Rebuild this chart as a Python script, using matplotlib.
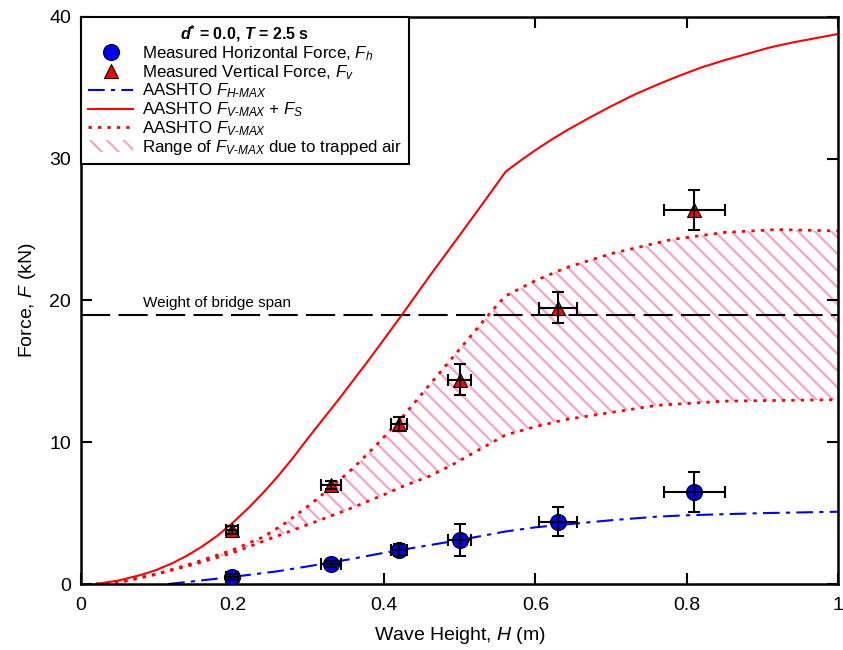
import numpy as np
import matplotlib
matplotlib.use("Agg")
import matplotlib.pyplot as plt

plt.rcParams['font.family'] = ['Liberation Sans', 'DejaVu Sans']
plt.rcParams['mathtext.fontset'] = 'custom'
plt.rcParams['mathtext.rm'] = 'Liberation Sans'
plt.rcParams['mathtext.it'] = 'Liberation Sans:italic'
plt.rcParams['mathtext.bf'] = 'Liberation Sans:bold'
plt.rcParams['mathtext.bfit'] = 'Liberation Sans:italic:bold'
plt.rcParams['hatch.linewidth'] = 1.6

# ---------- DATA ----------
# measured points (H in m, F in kN)
meas_h = [0.20, 0.33, 0.42, 0.50, 0.63, 0.81]
meas_h_err = [0.008, 0.013, 0.010, 0.015, 0.025, 0.040]
fh = [0.5, 1.4, 2.4, 3.1, 4.4, 6.5]
fh_err = [0.2, 0.2, 0.4, 1.1, 1.0, 1.4]
fv = [3.8, 7.0, 11.3, 14.4, 19.5, 26.4]
fv_err = [0.3, 0.3, 0.5, 1.1, 1.1, 1.4]

# AASHTO F_H-MAX
aash_h_x = [0.115, 0.15, 0.20, 0.26, 0.30, 0.35, 0.40, 0.45, 0.50, 0.56, 0.60, 0.64,
            0.70, 0.76, 0.80, 0.90, 1.00]
aash_h_y = [0.0, 0.2, 0.5, 0.9, 1.25, 1.7, 2.2, 2.65, 3.1, 3.7, 4.0, 4.2,
            4.5, 4.75, 4.85, 5.0, 5.1]

# AASHTO F_V-MAX + F_S
fvs_x = [0.02, 0.05, 0.08, 0.10, 0.12, 0.14, 0.16, 0.18, 0.20, 0.22, 0.24, 0.26,
         0.28, 0.30, 0.34, 0.38, 0.424, 0.46, 0.50, 0.53, 0.561, 0.58, 0.60,
         0.62, 0.64, 0.67, 0.70, 0.73, 0.76, 0.79, 0.82, 0.85, 0.88, 0.91,
         0.94, 0.97, 1.00]
fvs_y = [0.0, 0.25, 0.65, 1.0, 1.45, 2.0, 2.65, 3.4, 4.3, 5.3, 6.4, 7.6,
         8.9, 10.3, 13.0, 15.8, 19.0, 21.7, 24.6, 26.8, 29.1, 29.85, 30.6,
         31.3, 31.95, 32.85, 33.7, 34.5, 35.2, 35.85, 36.45, 36.95, 37.4, 37.85,
         38.2, 38.5, 38.8]

# AASHTO F_V-MAX (upper) and reduced F_V-MAX (lower, trapped air range)
fv_up_x = [0.02, 0.05, 0.10, 0.15, 0.20, 0.24, 0.27, 0.30, 0.33, 0.36, 0.39,
           0.42, 0.45, 0.48, 0.51, 0.54, 0.56, 0.60, 0.64, 0.70, 0.78, 0.85,
           0.92, 1.00]
fv_up_y = [0.0, 0.12, 0.7, 1.5, 2.4, 3.3, 4.3, 5.5, 6.8, 8.2, 9.8,
           11.5, 13.4, 15.3, 17.2, 19.1, 20.3, 21.4, 22.3, 23.3, 24.3, 24.8,
           25.0, 24.9]
fv_lo_x = [0.02, 0.05, 0.10, 0.15, 0.20, 0.25, 0.30, 0.35, 0.40, 0.43, 0.46,
           0.49, 0.53, 0.56, 0.60, 0.64, 0.70, 0.76, 0.85, 1.00]
fv_lo_y = [0.0, 0.1, 0.7, 1.4, 2.2, 3.2, 4.2, 5.2, 6.3, 7.0, 7.6,
           8.4, 9.6, 10.5, 11.1, 11.6, 12.1, 12.6, 12.9, 13.0]

span_weight = 19.0
# --------------------------

fig = plt.figure(figsize=(8.43, 6.5), dpi=100)
ax = fig.add_axes([0.096, 0.1015, 0.8985, 0.8725])

# trapped air range (hatched band)
grid = np.linspace(0.02, 1.0, 400)
up = np.interp(grid, fv_up_x, fv_up_y)
lo = np.interp(grid, fv_lo_x, fv_lo_y)
band = ax.fill_between(grid, lo, up, facecolor='none', edgecolor='#f7a1cc',
                       hatch='\\\\', linewidth=0, zorder=1)

ax.axhline(span_weight, color='black', lw=1.5, dashes=(14, 4), zorder=2)
ax.text(0.082, span_weight + 0.55, 'Weight of bridge span', fontsize=11)

l_h, = ax.plot(aash_h_x, aash_h_y, color='blue', lw=1.5, dashes=(8, 3, 2, 3), zorder=2)
l_fs, = ax.plot(fvs_x, fvs_y, color='red', lw=1.5, zorder=2)
l_fv, = ax.plot(fv_up_x, fv_up_y, color='red', lw=2, dashes=(1.2, 2.2), zorder=2)
ax.plot(fv_lo_x, fv_lo_y, color='red', lw=2, dashes=(1.2, 2.2), zorder=2)

m_h, = ax.plot(meas_h, fh, 'o', ms=11.5, mfc='blue', mec='black', mew=0.8,
               ls='none', zorder=3)
m_v, = ax.plot(meas_h, fv, '^', ms=10.5, mfc='red', mec='black', mew=0.8,
               ls='none', zorder=3)
ax.errorbar(meas_h, fh, yerr=fh_err, xerr=meas_h_err, fmt='none', ecolor='black',
            elinewidth=1.5, capsize=4, capthick=1.5, zorder=4)
ax.errorbar(meas_h, fv, yerr=fv_err, xerr=meas_h_err, fmt='none', ecolor='black',
            elinewidth=1.5, capsize=4, capthick=1.5, zorder=4)

ax.set_xlim(0, 1)
ax.set_ylim(0, 40)
ax.set_xticks([0, 0.2, 0.4, 0.6, 0.8, 1])
ax.set_xticklabels(['0', '0.2', '0.4', '0.6', '0.8', '1'])
ax.set_yticks([0, 10, 20, 30, 40])
ax.tick_params(direction='in', length=8, width=1.5, top=True, right=True,
               labelsize=14)
ax.tick_params(axis='x', pad=9)
ax.tick_params(axis='y', pad=7)
for s in ax.spines.values():
    s.set_linewidth(1.8)
ax.set_xlabel('Wave Height, $H$ (m)', fontsize=14, labelpad=8)
ax.set_ylabel('Force, $F$ (kN)', fontsize=14, labelpad=8)

leg = ax.legend([m_h, m_v, l_h, l_fs, l_fv, band],
                ['Measured Horizontal Force, $F_h$',
                 'Measured Vertical Force, $F_v$',
                 r'AASHTO $F_{H\text{-}MAX}$',
                 r'AASHTO $F_{V\text{-}MAX}$ + $F_S$',
                 r'AASHTO $F_{V\text{-}MAX}$',
                 r'Range of $F_{V\text{-}MAX}$ due to trapped air'],
                title=r'$\mathbfit{d}^{\mathbf{*}}$ = 0.0, $\mathbfit{T}$ = 2.5 s',
                loc='upper left', bbox_to_anchor=(0, 1), borderaxespad=0,
                fontsize=12.2, fancybox=False, framealpha=1, edgecolor='black',
                labelspacing=0.0, handlelength=2.7, handletextpad=0.5,
                borderpad=0.4)
leg.get_title().set_fontweight('bold')
leg.get_title().set_fontsize(11.5)
leg.get_frame().set_linewidth(1.5)

fig.savefig('out.png', dpi=100)
